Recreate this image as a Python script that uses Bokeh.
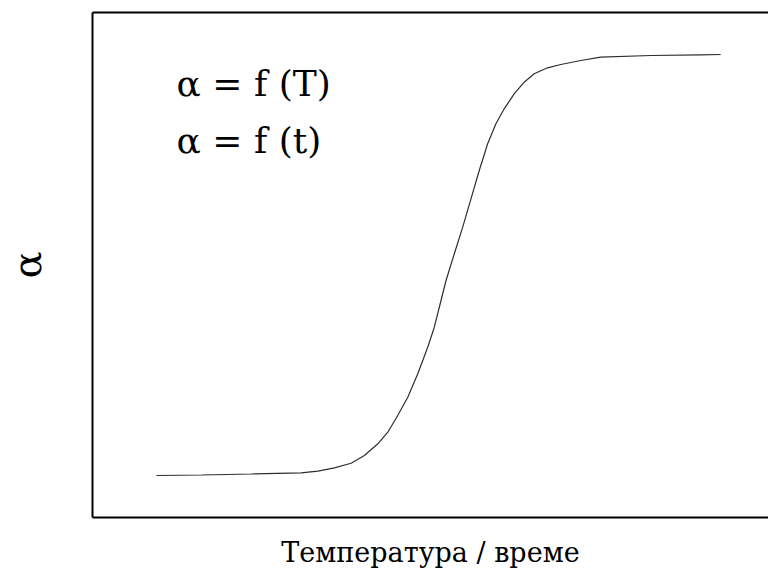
from bokeh.plotting import figure
from bokeh.models import Range1d, LinearAxis, FixedTicker, Label
from bokeh.embed import file_html
from bokeh.resources import INLINE

# Sigmoid conversion curve (x: arbitrary T/t units, y: alpha 0..1)
x_vals = [0.943, 1.605, 2.342, 3.078, 3.324, 3.568, 3.814, 4.010, 4.208, 4.355,
          4.502, 4.650, 4.797, 4.944, 5.041, 5.140, 5.214, 5.336, 5.460, 5.582,
          5.704, 5.828, 5.950, 6.072, 6.219, 6.367, 6.514, 6.711, 6.907, 7.202,
          7.496, 8.233, 8.969, 9.264]
alpha_vals = [0.0832, 0.0842, 0.0861, 0.0885, 0.0917, 0.0984, 0.1075, 0.1228,
              0.1459, 0.1689, 0.2020, 0.2382, 0.2846, 0.3372, 0.3768, 0.4297,
              0.4693, 0.5222, 0.5749, 0.6311, 0.6871, 0.7400, 0.7796, 0.8093,
              0.8390, 0.8620, 0.8786, 0.8905, 0.8970, 0.9050, 0.9115, 0.9149,
              0.9162, 0.9168]

x_label = "Температура / време"
y_label = "α"
formula_lines = ["α = f (T)", "α = f (t)"]
formula_x = [1.24, 1.24]
formula_y = [0.859, 0.747]

FONT = "DejaVu Serif"

p = figure(width=768, height=572, output_backend="svg", toolbar_location=None,
           x_range=Range1d(0, 9.97), y_range=Range1d(0, 1),
           min_border_left=91, min_border_right=0, min_border_top=12,
           min_border_bottom=55)
p.outline_line_color = None
p.grid.visible = False
p.background_fill_color = "white"
p.border_fill_color = "white"

p.line(x_vals, alpha_vals, line_color="#2e2e2e", line_width=1.2)

top_axis = LinearAxis()
p.add_layout(top_axis, "above")

for ax in p.axis:
    ax.ticker = FixedTicker(ticks=[])
    ax.major_tick_out = 0
    ax.major_tick_in = 0
    ax.minor_tick_out = 0
    ax.minor_tick_in = 0
    ax.major_label_text_font_size = "0px"
    ax.axis_line_color = "black"
    ax.axis_line_width = 2

bottom_axis = p.below[0]
bottom_axis.axis_label = x_label
bottom_axis.axis_label_text_font = FONT
bottom_axis.axis_label_text_font_size = "27px"
bottom_axis.axis_label_text_font_style = "normal"
bottom_axis.axis_label_text_color = "black"
bottom_axis.axis_label_standoff = 19

left_axis = p.left[0]
left_axis.axis_label = y_label
left_axis.axis_label_text_font = FONT
left_axis.axis_label_text_font_size = "40px"
left_axis.axis_label_text_font_style = "normal"
left_axis.axis_label_text_color = "black"
left_axis.axis_label_standoff = 43

for txt, fx, fy in zip(formula_lines, formula_x, formula_y):
    p.add_layout(Label(x=fx, y=fy, text=txt, text_font=FONT, text_font_size="36px",
                       text_color="black", text_baseline="alphabetic",
                       text_align="left"))

open("out.html", "w").write(file_html(p, INLINE))
